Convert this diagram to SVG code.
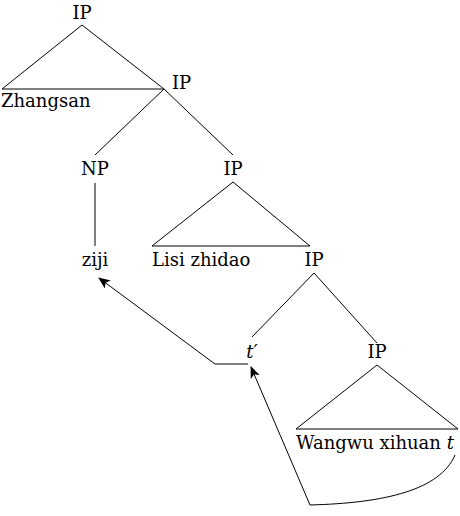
<svg xmlns="http://www.w3.org/2000/svg" width="460" height="516" viewBox="0 0 460 516">
<defs>
<style>
text{font-family:"DejaVu Serif","Liberation Serif",serif;font-size:18px;fill:#000}
.m{text-anchor:middle}
.e{stroke:#000;stroke-width:1;fill:none}
</style>
<marker id="ah" viewBox="0 0 12 10" refX="11" refY="5" markerWidth="12" markerHeight="10" markerUnits="userSpaceOnUse" orient="auto">
<path d="M0,0 L12,5 L0,10 L3,5 Z" fill="#000"/>
</marker>
</defs>
<rect width="460" height="516" fill="#fff"/>
<g id="ip1"><text class="m" x="82" y="19">IP</text></g>
<g id="zhangsan"><path class="e" d="M82,25 L2,89 L164,89"/><text x="1" y="107">Zhangsan</text></g>
<g id="ip2"><text x="172" y="89">IP</text></g>
<g id="np"><text class="m" x="95" y="175">NP</text></g>
<g id="ziji"><text class="m" x="95" y="266">ziji</text></g>
<g id="ip3"><text class="m" x="233" y="175">IP</text><path class="e" d="M233,182 L152,246 L310,246 Z"/></g>
<g id="lisi"><text x="152" y="266">Lisi zhidao</text></g>
<g id="ip4"><text class="m" x="314" y="266">IP</text></g>
<g id="tprime"><text class="m" x="252" y="358" font-style="italic">t′</text></g>
<g id="ip5"><text class="m" x="377" y="358">IP</text><path class="e" d="M377,365 L296,429 L458,429 Z"/></g>
<g id="wangwu"><text x="296" y="449">Wangwu xihuan <tspan font-style="italic">t</tspan></text></g>
<g id="connectors">
<path class="e" d="M82,25 L164,89"/>
<path class="e" d="M164,89 L95,155"/>
<path class="e" d="M164,89 L233,155"/>
<path class="e" d="M95,183 L95,246"/>
<path class="e" d="M314,273 L252,337"/>
<path class="e" d="M314,273 L377,343"/>
<path class="e" d="M248,364 L215,364 L99,278" marker-end="url(#ah)"/>
<path class="e" d="M455,455 C440,490 385,503 310,505 L251,367" marker-end="url(#ah)"/>
</g>
</svg>
